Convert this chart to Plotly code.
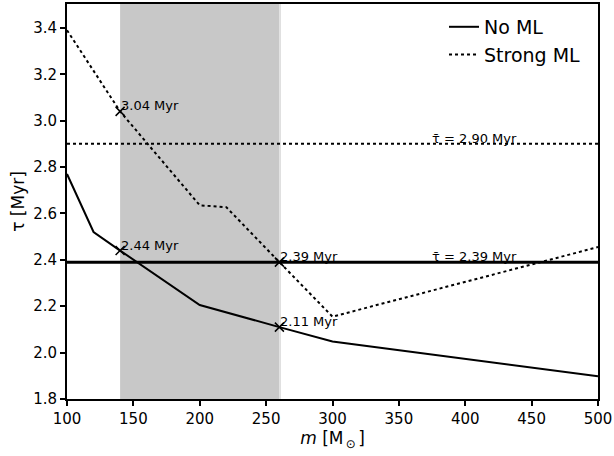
import plotly.graph_objects as go

# Data
m_noml = [100, 120, 140, 200, 260, 300, 500]
tau_noml = [2.77, 2.52, 2.44, 2.205, 2.11, 2.048, 1.898]
m_strong = [100, 140, 200, 220, 260, 300, 500]
tau_strong = [3.39, 3.04, 2.635, 2.627, 2.39, 2.155, 2.455]
mean_noml = 2.39
mean_strong = 2.90
span = [140, 260]
mark_m = [140, 140, 260, 260]
mark_tau = [3.04, 2.44, 2.39, 2.11]
mark_txt = ["3.04 Myr", "2.44 Myr", "2.39 Myr", "2.11 Myr"]

FONT = "DejaVu Sans"
fig = go.Figure()

fig.add_shape(type="rect", xref="x", yref="paper", x0=span[0], x1=span[1], y0=0, y1=1,
              fillcolor="#c8c8c8", line_width=0, layer="below")
fig.add_shape(type="rect", xref="x", yref="paper", x0=span[1], x1=span[1] + 1.2, y0=0, y1=1,
              fillcolor="#e0e0e0", line_width=0, layer="below")

fig.add_trace(go.Scatter(x=m_noml, y=tau_noml, mode="lines", name="No ML", legendgroup="a",
                         line=dict(color="black", width=2)))
fig.add_trace(go.Scatter(x=m_strong, y=tau_strong, mode="lines", name="Strong ML", legendgroup="b",
                         line=dict(color="black", width=2, dash="dot")))
fig.add_trace(go.Scatter(x=[100, 500], y=[mean_noml, mean_noml], mode="lines", showlegend=False,
                         line=dict(color="black", width=3)))
fig.add_trace(go.Scatter(x=[100, 500], y=[mean_strong, mean_strong], mode="lines", showlegend=False,
                         line=dict(color="black", width=2, dash="dot")))
fig.add_trace(go.Scatter(x=mark_m, y=mark_tau, mode="markers", showlegend=False,
                         marker=dict(symbol="x-thin", size=9, line=dict(color="black", width=1.5))))

for xm, yt, t in zip(mark_m, mark_tau, mark_txt):
    fig.add_annotation(x=xm, y=yt, text=t, showarrow=False, xanchor="left", yanchor="bottom",
                       yshift=-4, xshift=-1, font=dict(family=FONT, size=13, color="black"))
for yt in [mean_strong, mean_noml]:
    fig.add_annotation(x=375, y=yt, text="τ\u0304 = %.2f Myr" % yt, showarrow=False,
                       xanchor="left", yanchor="bottom", yshift=-4, xshift=-2,
                       font=dict(family=FONT, size=13, color="black"))

axis_common = dict(showgrid=False, zeroline=False, showline=True, linecolor="black", linewidth=2,
                   mirror=True, ticks="outside", tickcolor="black", ticklen=5, tickwidth=1.5,
                   tickfont=dict(family=FONT, size=15, color="black"))
fig.update_xaxes(range=[100, 500], tickvals=[100, 150, 200, 250, 300, 350, 400, 450, 500],
                 title=dict(text="<i>m</i> [M<sub>\u2009⊙\u2009</sub>]",
                            font=dict(family=FONT, size=17, color="black"), standoff=2),
                 **axis_common)
fig.update_yaxes(range=[1.8, 3.503], tickvals=[1.8, 2.0, 2.2, 2.4, 2.6, 2.8, 3.0, 3.2, 3.4],
                 tickformat=".1f",
                 title=dict(text="τ [Myr]", font=dict(family=FONT, size=17, color="black"), standoff=4),
                 **axis_common)

fig.update_layout(width=614, height=456, margin=dict(l=67, r=16, t=2, b=57),
                  plot_bgcolor="white", paper_bgcolor="white",
                  legend=dict(x=0.71, y=0.99, xanchor="left", yanchor="top", bgcolor="rgba(0,0,0,0)",
                              font=dict(family=FONT, size=19, color="black"),
                              traceorder="grouped", tracegroupgap=0),
                  font=dict(family=FONT))
fig.write_html("out.html")
